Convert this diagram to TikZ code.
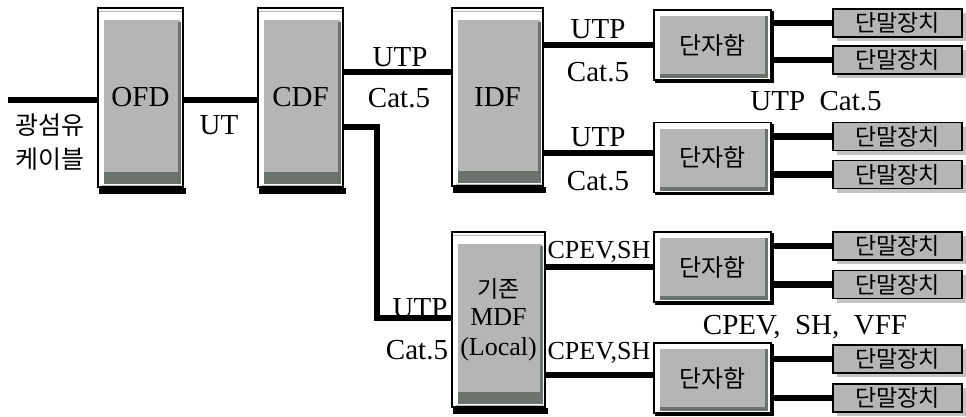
\documentclass[tikz,border=0pt]{standalone}
\usepackage{fontspec}
\setmainfont{Liberation Serif}
\newfontfamily\kr{Noto Sans CJK KR}
\usetikzlibrary{calc,shadows}
\definecolor{boxgray}{RGB}{181,181,181}
\definecolor{bandgray}{RGB}{108,114,108}
\definecolor{shadegray}{RGB}{195,195,195}
\tikzset{
  tallbox/.style={rectangle, draw=black, line width=1.5pt, fill=white, inner sep=0pt,
    font=\fontsize{29}{30}\selectfont, align=center,
    path picture={
      \fill[boxgray] ($(path picture bounding box.north west)+(6pt,-12pt)$) rectangle ($(path picture bounding box.south east)+(-3pt,3pt)$);
      \fill[bandgray] ($(path picture bounding box.south west)+(6pt,3pt)$) rectangle ($(path picture bounding box.south east)+(-3pt,15pt)$);
      \fill[bandgray] ($(path picture bounding box.north east)+(-5pt,-14pt)$) rectangle ($(path picture bounding box.south east)+(-2pt,3pt)$);
      \draw[boxgray, line width=1pt] ($(path picture bounding box.north west)+(0,-3pt)$) -- ($(path picture bounding box.north east)+(0,-3pt)$);
      \draw[boxgray, line width=1pt] ($(path picture bounding box.south west)+(4pt,2pt)$) -- ($(path picture bounding box.south east)+(-2pt,2pt)$);
    }},
  jbox/.style={rectangle, draw=black, line width=1.5pt, fill=white, inner sep=0pt,
    minimum width=117pt, minimum height=70pt, font=\kr\fontsize{24}{26}\selectfont,
    path picture={
      \fill[boxgray] ($(path picture bounding box.north west)+(6pt,-6pt)$) rectangle ($(path picture bounding box.south east)+(-3pt,3pt)$);
      \fill[bandgray] ($(path picture bounding box.south west)+(6pt,2pt)$) rectangle ($(path picture bounding box.south east)+(-3pt,6pt)$);
      \fill[bandgray] ($(path picture bounding box.north east)+(-6pt,-6pt)$) rectangle ($(path picture bounding box.south east)+(-3pt,3pt)$);
    }},
  tbox/.style={rectangle, draw=black, line width=1.2pt, fill=boxgray, inner sep=0pt,
    minimum width=129pt, minimum height=28pt, font=\kr\fontsize{23}{24}\selectfont,
    general shadow={fill=shadegray, shadow xshift=4pt, shadow yshift=-4pt}},
  lbl/.style={inner sep=0pt, font=\fontsize{29}{30}\selectfont},
  slbl/.style={inner sep=0pt, font=\fontsize{26}{28}\selectfont},
  klbl/.style={inner sep=0pt, font=\kr\fontsize{25}{26}\selectfont},
  cable/.style={line width=6.5pt, line join=miter, line cap=butt},
}
\begin{document}
\begin{tikzpicture}[x=1pt,y=-1pt]
\useasboundingbox (0,0) rectangle (966,416);
% main boxes
\node[tallbox, minimum width=85pt, minimum height=179pt] (ofd) at (140.5,97.5) {OFD};
\node[tallbox, minimum width=85pt, minimum height=179pt] (cdf) at (300.5,97.5) {CDF};
\node[tallbox, minimum width=91pt, minimum height=178pt] (idf) at (497.5,97) {IDF};
\node[tallbox, minimum width=93pt, minimum height=175pt, font=\fontsize{26}{30}\selectfont] (mdf) at (498.5,319.5) {{\kr\fontsize{23}{26}\selectfont 기존}\\[-2pt]MDF\\(Local)};
\foreach \n in {ofd,cdf,idf,mdf}
  \fill[black] ($(\n.south west)+(2pt,0)$) rectangle ($(\n.south east)+(2pt,-6pt)$);
% junction boxes
\node[jbox] (j1) at (712.5,45) {단자함};
\node[jbox] (j2) at (712.5,157.5) {단자함};
\node[jbox] (j3) at (712.5,267) {단자함};
\node[jbox] (j4) at (712.5,378) {단자함};
\foreach \n in {j1,j2,j3,j4}{
  \fill[black] ($(\n.south west)+(2pt,0)$) rectangle ($(\n.south east)+(2pt,-2pt)$);
  \fill[black] ($(\n.north east)+(0,-2pt)$) rectangle ($(\n.south east)+(2pt,0)$);
}
% terminals
\node[tbox] (t1) at (897.5,23) {단말장치};
\node[tbox] (t2) at (897.5,60) {단말장치};
\node[tbox] (t3) at (897.5,136.5) {단말장치};
\node[tbox] (t4) at (897.5,174.5) {단말장치};
\node[tbox] (t5) at (897.5,246) {단말장치};
\node[tbox] (t6) at (897.5,284.5) {단말장치};
\node[tbox] (t7) at (897.5,359) {단말장치};
\node[tbox] (t8) at (897.5,398) {단말장치};
% connectors
\coordinate (in) at (8,100);
\draw[cable] (in) -- (in -| ofd.west);
\draw[cable] (ofd.east |- in) -- (cdf.west |- in);
\coordinate (c1) at (0,72);
\draw[cable] (cdf.east |- c1) -- (idf.west |- c1);
\coordinate (c2) at (377,127);
\coordinate (c3) at (377,318);
\draw[cable] (cdf.east |- c2) -- (c2) -- (c3) -- (mdf.west |- c3);
\draw[cable] (idf.east |- j1) -- (j1.west);
\coordinate (c4) at (0,153);
\draw[cable] (idf.east |- c4) -- (j2.west |- c4);
\draw[cable] (mdf.east |- j3) -- (j3.west);
\coordinate (c5) at (0,375);
\draw[cable] (mdf.east |- c5) -- (j4.west |- c5);
\draw[cable] (j1.east |- t1) -- (t1.west);
\draw[cable] (j1.east |- t2) -- (t2.west);
\draw[cable] (j2.east |- t3) -- (t3.west);
\draw[cable] (j2.east |- t4) -- (t4.west);
\draw[cable] (j3.east |- t5) -- (t5.west);
\draw[cable] (j3.east |- t6) -- (t6.west);
\draw[cable] (j4.east |- t7) -- (t7.west);
\draw[cable] (j4.east |- t8) -- (t8.west);
% labels
\node[klbl] (k1) at (50,125) {광섬유};
\node[klbl] (k2) at (50,159) {케이블};
\node[lbl] (u0) at (219,125) {UT};
\node[lbl] (u1) at (400,57) {UTP};
\node[lbl] (u2) at (399,98) {Cat.5};
\node[lbl] (u3) at (598,29) {UTP};
\node[lbl] (u4) at (598,72) {Cat.5};
\node[lbl] (u5) at (598,137) {UTP};
\node[lbl] (u6) at (598,181) {Cat.5};
\node[lbl] (u7) at (816,101) {UTP~~Cat.5};
\node[lbl] (u8) at (420,308) {UTP};
\node[lbl] (u9) at (417,350) {Cat.5};
\node[slbl] (p1) at (599,252) {CPEV,SH};
\node[slbl] (p2) at (599,353) {CPEV,SH};
\node[lbl] (p3) at (805,327) {CPEV,~~SH,~~VFF};
\end{tikzpicture}
\end{document}
